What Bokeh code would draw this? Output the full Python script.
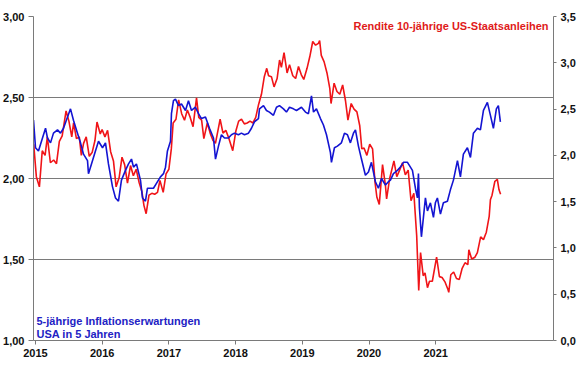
import pandas as pd
from bokeh.plotting import figure
from bokeh.models import Range1d, LinearAxis, FixedTicker, CustomJSTickFormatter, Label
from bokeh.embed import file_html
from bokeh.resources import INLINE

# ---------------- data ----------------
year_labels = ["2015", "2016", "2017", "2018", "2019", "2020", "2021"]
left_ticks = [1.0, 1.5, 2.0, 2.5, 3.0]
right_ticks = [0.0, 0.5, 1.0, 1.5, 2.0, 2.5, 3.0, 3.5]

# Rendite 10-jaehrige US-Staatsanleihen (right axis)
red_dates = [
    "2015-01-02", "2015-01-15", "2015-01-30", "2015-02-13", "2015-02-27", "2015-03-10", "2015-03-25",
    "2015-04-10", "2015-04-24", "2015-05-08", "2015-05-22", "2015-06-10", "2015-06-24", "2015-07-08",
    "2015-07-17", "2015-07-31", "2015-08-14", "2015-08-24", "2015-09-04", "2015-09-17", "2015-10-02",
    "2015-10-16", "2015-10-30", "2015-11-09", "2015-11-25", "2015-12-04", "2015-12-18", "2015-12-31",
    "2016-01-15", "2016-01-29", "2016-02-11", "2016-02-26", "2016-03-11", "2016-03-24", "2016-04-07",
    "2016-04-22", "2016-05-06", "2016-05-20", "2016-06-03", "2016-06-17", "2016-06-27", "2016-07-08",
    "2016-07-22", "2016-08-05", "2016-08-19", "2016-09-02", "2016-09-14", "2016-09-30", "2016-10-14",
    "2016-10-28", "2016-11-09", "2016-11-18", "2016-12-02", "2016-12-15", "2016-12-30",
    "2017-01-13", "2017-01-27", "2017-02-10", "2017-02-24", "2017-03-13", "2017-03-24", "2017-04-07",
    "2017-04-18", "2017-05-05", "2017-05-19", "2017-06-02", "2017-06-14", "2017-06-30", "2017-07-07",
    "2017-07-21", "2017-08-04", "2017-08-18", "2017-09-07", "2017-09-22", "2017-10-06", "2017-10-20",
    "2017-11-03", "2017-11-17", "2017-12-01", "2017-12-15", "2017-12-29",
    "2018-01-12", "2018-01-26", "2018-02-09", "2018-02-21", "2018-03-02", "2018-03-16", "2018-03-29",
    "2018-04-13", "2018-04-25", "2018-05-04", "2018-05-17", "2018-06-01", "2018-06-13", "2018-06-29",
    "2018-07-13", "2018-07-27", "2018-08-10", "2018-08-22", "2018-09-07", "2018-09-21", "2018-10-05",
    "2018-10-19", "2018-11-02", "2018-11-08", "2018-11-16", "2018-11-30", "2018-12-14", "2018-12-28",
    "2019-01-03", "2019-01-18", "2019-02-01", "2019-02-15", "2019-03-01", "2019-03-15", "2019-03-27",
    "2019-04-12", "2019-04-26", "2019-05-10", "2019-05-24", "2019-06-03", "2019-06-14", "2019-06-28",
    "2019-07-12", "2019-07-26", "2019-08-07", "2019-08-16", "2019-08-28", "2019-09-13", "2019-09-27",
    "2019-10-03", "2019-10-18", "2019-11-08", "2019-11-22", "2019-12-06", "2019-12-20",
    "2020-01-03", "2020-01-17", "2020-01-31", "2020-02-14", "2020-02-28", "2020-03-09", "2020-03-18",
    "2020-03-31", "2020-04-09", "2020-04-21", "2020-05-01", "2020-05-15", "2020-06-05", "2020-06-19",
    "2020-07-02", "2020-07-17", "2020-07-31", "2020-08-04", "2020-08-14", "2020-08-28", "2020-09-11",
    "2020-09-25", "2020-10-09", "2020-10-23", "2020-11-06", "2020-11-11", "2020-11-25", "2020-12-11",
    "2020-12-23",
    "2021-01-08", "2021-01-22", "2021-02-05", "2021-02-19", "2021-02-25", "2021-03-05", "2021-03-19",
    "2021-03-31", "2021-04-08", "2021-04-16",
]
red_values = [
    2.12, 1.77, 1.66, 2.05, 2.00, 2.20, 1.92,
    1.95, 1.91, 2.15, 2.21, 2.48, 2.37, 2.20,
    2.35, 2.18, 2.20, 2.00, 2.13, 2.20, 1.99,
    2.03, 2.16, 2.36, 2.23, 2.28, 2.20, 2.27,
    2.04, 1.94, 1.66, 1.76, 1.98, 1.90, 1.70,
    1.89, 1.78, 1.85, 1.71, 1.61, 1.46, 1.37,
    1.57, 1.59, 1.58, 1.60, 1.73, 1.60, 1.80,
    1.85, 2.07, 2.35, 2.39, 2.60, 2.45,
    2.38, 2.49, 2.41, 2.31, 2.62, 2.41, 2.38,
    2.18, 2.35, 2.24, 2.16, 2.13, 2.31, 2.39,
    2.24, 2.27, 2.19, 2.05, 2.26, 2.37, 2.39,
    2.34, 2.35, 2.37, 2.35, 2.41,
    2.55, 2.66, 2.85, 2.94, 2.86, 2.85, 2.74,
    2.83, 3.03, 2.95, 3.11, 2.89, 2.98, 2.86,
    2.83, 2.96, 2.87, 2.82, 2.94, 3.07, 3.23,
    3.19, 3.21, 3.24, 3.08, 3.01, 2.89, 2.72,
    2.56, 2.78, 2.69, 2.66, 2.76, 2.59, 2.38,
    2.56, 2.50, 2.47, 2.32, 2.07, 2.08, 2.00,
    2.12, 2.07, 1.71, 1.55, 1.47, 1.90, 1.68,
    1.53, 1.75, 1.94, 1.77, 1.84, 1.92,
    1.79, 1.84, 1.51, 1.59, 1.13, 0.54, 0.95,
    0.70, 0.73, 0.57, 0.64, 0.64, 0.90, 0.69,
    0.68, 0.63, 0.55, 0.52, 0.71, 0.74, 0.67,
    0.66, 0.78, 0.84, 0.82, 0.98, 0.88, 0.90,
    0.95,
    1.12, 1.09, 1.17, 1.34, 1.52, 1.57, 1.72,
    1.74, 1.63, 1.58,
]

# 5-jaehrige Inflationserwartungen USA in 5 Jahren (left axis), time in decimal years
blue_t = [
    2015.000, 2015.027, 2015.067, 2015.121, 2015.162, 2015.188, 2015.229, 2015.269, 2015.323, 2015.363,
    2015.404, 2015.458, 2015.498, 2015.538, 2015.592, 2015.633, 2015.673, 2015.727, 2015.740, 2015.794,
    2015.834, 2015.875, 2015.929, 2015.969,
    2016.009, 2016.063, 2016.104, 2016.144, 2016.184, 2016.238, 2016.279, 2016.319, 2016.346, 2016.386,
    2016.440, 2016.467, 2016.507, 2016.534, 2016.575, 2016.615, 2016.655, 2016.709, 2016.750, 2016.777,
    2016.803, 2016.844, 2016.857, 2016.884, 2016.911, 2016.952, 2016.992,
    2017.046, 2017.086, 2017.127, 2017.180, 2017.221, 2017.261, 2017.315, 2017.369, 2017.423, 2017.450,
    2017.490, 2017.530, 2017.571, 2017.624, 2017.665, 2017.705, 2017.759, 2017.799, 2017.840, 2017.894,
    2017.934, 2017.974,
    2018.028, 2018.042, 2018.096, 2018.136, 2018.176, 2018.230, 2018.271, 2018.311, 2018.365, 2018.405,
    2018.446, 2018.499, 2018.540, 2018.607, 2018.661, 2018.701, 2018.742, 2018.769, 2018.809, 2018.863,
    2018.903, 2018.944, 2018.997,
    2019.011, 2019.051, 2019.091, 2019.145, 2019.186, 2019.226, 2019.266, 2019.307, 2019.334, 2019.374,
    2019.415, 2019.468, 2019.509, 2019.549, 2019.603, 2019.643, 2019.684, 2019.738, 2019.778, 2019.805,
    2019.845, 2019.899, 2019.939, 2019.980,
    2020.034, 2020.047, 2020.101, 2020.141, 2020.168, 2020.182, 2020.195, 2020.222, 2020.249, 2020.276,
    2020.303, 2020.343, 2020.384, 2020.410, 2020.437, 2020.478, 2020.518, 2020.572, 2020.612, 2020.653,
    2020.707, 2020.747, 2020.787, 2020.841, 2020.882, 2020.922, 2020.976,
    2021.016, 2021.057, 2021.110, 2021.151, 2021.191, 2021.231, 2021.258, 2021.285,
]
blue_values = [
    2.36, 2.19, 2.17, 2.25, 2.31, 2.25, 2.22, 2.28, 2.30, 2.28,
    2.31, 2.38, 2.43, 2.36, 2.28, 2.22, 2.15, 2.11, 2.03, 2.11,
    2.17, 2.23, 2.19, 2.22,
    2.09, 1.95, 1.88, 1.86, 1.99, 2.05, 2.09, 2.12, 2.07, 2.09,
    1.99, 1.88, 1.86, 1.94, 1.94, 1.94, 1.97, 2.01, 2.03, 2.07,
    2.17, 2.23, 2.40, 2.48, 2.49, 2.45, 2.46,
    2.42, 2.48, 2.42, 2.44, 2.40, 2.37, 2.38, 2.31, 2.25, 2.12,
    2.20, 2.27, 2.25, 2.25, 2.27, 2.28, 2.27, 2.28, 2.27, 2.28,
    2.31, 2.35,
    2.37, 2.43, 2.45, 2.42, 2.41, 2.39, 2.44, 2.45, 2.43, 2.41,
    2.44, 2.43, 2.42, 2.44, 2.41, 2.40, 2.51, 2.41, 2.43, 2.37,
    2.33, 2.27, 2.16,
    2.10, 2.19, 2.20, 2.22, 2.28, 2.27, 2.22, 2.28, 2.30, 2.20,
    2.12, 2.02, 2.04, 2.10, 1.98, 1.94, 2.00, 1.96, 1.98, 1.99,
    2.03, 2.05, 2.07, 2.10,
    2.10, 2.09, 2.05, 1.94, 1.88, 2.03, 1.82, 1.64, 1.76, 1.88,
    1.80, 1.85, 1.76, 1.85, 1.88, 1.78, 1.85, 1.86, 1.93, 1.99,
    2.11, 2.01, 2.15, 2.19, 2.13, 2.28, 2.31,
    2.30, 2.42, 2.47, 2.39, 2.31, 2.43, 2.45, 2.35,
]

# ---------------- chart ----------------
d = pd.to_datetime(red_dates)
red_t = (d.year + (d.dayofyear - 1) / (365 + d.is_leap_year.astype(int))).tolist()

FONT = "Liberation Sans"
RED = "#f01418"
BLUE = "#1414d2"
GRID = "#7a7a7a"

p = figure(width=580, height=375, output_backend="svg", toolbar_location=None,
           x_range=Range1d(2015.0, 2022.0), y_range=Range1d(1.0, 3.0),
           min_border_left=33, min_border_right=27, min_border_top=16, min_border_bottom=35,
           background_fill_color="white", border_fill_color="white", outline_line_color=None)
p.extra_y_ranges = {"yield": Range1d(0.0, 3.5)}
p.add_layout(LinearAxis(y_range_name="yield"), "right")

p.xgrid.visible = False
p.ygrid.ticker = FixedTicker(ticks=left_ticks[1:])
p.ygrid.grid_line_color = GRID
p.ygrid.grid_line_width = 1

for ax in p.axis:
    ax.axis_line_color = GRID
    ax.axis_line_width = 1
    ax.major_tick_line_color = GRID
    ax.minor_tick_line_color = None
    ax.major_tick_in = 0
    ax.major_label_text_font = FONT
    ax.major_label_text_font_style = "bold"
    ax.major_label_text_font_size = "11px"
    ax.major_label_text_color = "#111111"

# x axis: labels at evenly spaced positions, as in the original
px_per_year = 520 / 7.0
x_tick_pos = [2015.0 + (2 + k * 66.7) / px_per_year for k in range(len(year_labels))]
xa = p.xaxis[0]
xa.ticker = FixedTicker(ticks=x_tick_pos)
xa.formatter = CustomJSTickFormatter(args=dict(labels=year_labels), code="return labels[index];")
xa.major_tick_out = 4
xa.major_label_standoff = 4

ya = p.yaxis[0]
ya.ticker = FixedTicker(ticks=left_ticks)
ya.formatter = CustomJSTickFormatter(code="return tick.toFixed(2).replace('.', ',');")
ya.major_tick_out = 5
ya.major_label_standoff = 4

ra = p.yaxis[1]
ra.ticker = FixedTicker(ticks=right_ticks)
ra.formatter = CustomJSTickFormatter(code="return tick.toFixed(1).replace('.', ',');")
ra.major_tick_out = 3
ra.major_label_standoff = 4

p.line(red_t, red_values, y_range_name="yield", line_color=RED, line_width=1.6)
p.line(blue_t, blue_values, line_color=BLUE, line_width=1.6)

p.add_layout(Label(x=515, y=315, x_units="screen", y_units="screen",
                   text="Rendite 10-jährige US-Staatsanleihen", text_align="right",
                   text_baseline="middle", text_font=FONT, text_font_style="bold",
                   text_font_size="11px", text_color="#e01a1a"))
p.add_layout(Label(x=3, y=20, x_units="screen", y_units="screen",
                   text="5-jährige Inflationserwartungen", text_align="left",
                   text_baseline="middle", text_font=FONT, text_font_style="bold",
                   text_font_size="11px", text_color="#2222c4"))
p.add_layout(Label(x=3, y=7, x_units="screen", y_units="screen",
                   text="USA in 5 Jahren", text_align="left",
                   text_baseline="middle", text_font=FONT, text_font_style="bold",
                   text_font_size="11px", text_color="#2222c4"))
p.add_layout(Label(x=545, y=-27, x_units="screen", y_units="screen",
                   text="Quelle: Refinitiv, Baader Bank Kapitalmarktanalyse", text_align="right",
                   text_baseline="middle", text_font=FONT, text_font_style="bold",
                   text_font_size="11px", text_color="#111111"))

open("out.html", "w").write(file_html(p, INLINE))
